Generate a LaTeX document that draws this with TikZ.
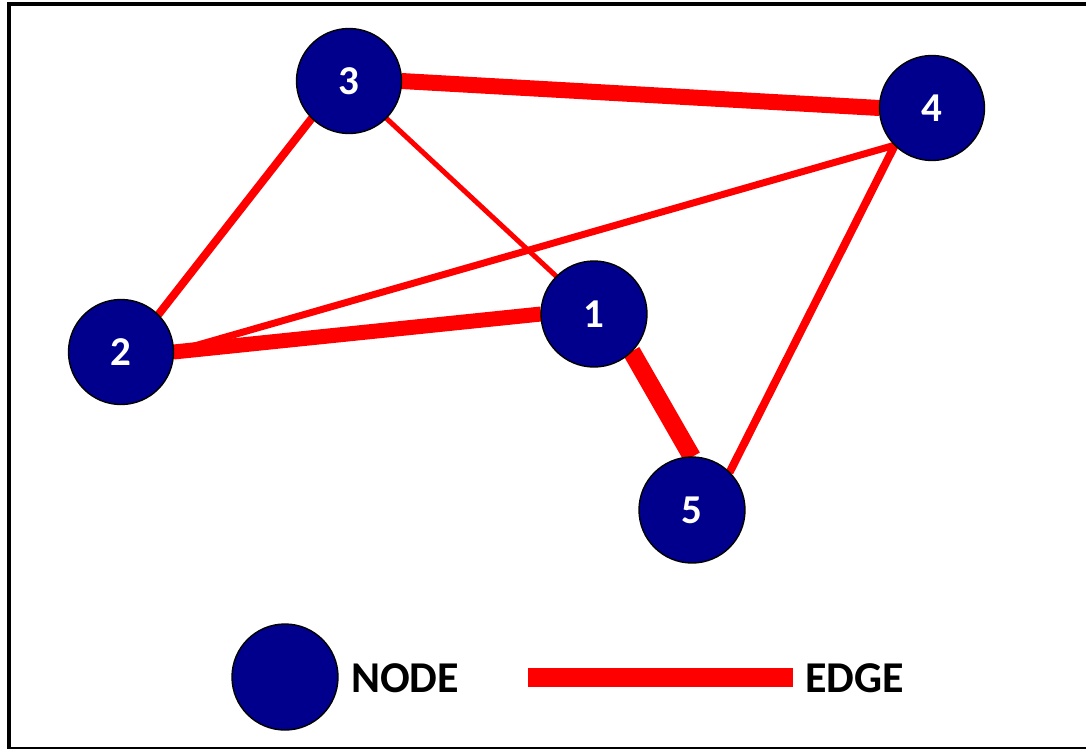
\documentclass[tikz,border=0pt]{standalone}
\usepackage{fontspec}
\setmainfont{Carlito}
\usetikzlibrary{backgrounds}
\definecolor{navy}{RGB}{0,0,140}
\definecolor{edgered}{RGB}{255,0,0}
\begin{document}
\begin{tikzpicture}[x=1pt,y=-1pt,
  vertex/.style={circle,fill=navy,draw=black,line width=1.4pt,minimum size=#1,inner sep=0pt,outer sep=0pt,
    text=white,font=\fontsize{41}{41}\selectfont\bfseries},
  vertex/.default=105pt,
  link/.style={draw=edgered,line width=#1,line cap=butt},
  legendtext/.style={anchor=west,inner sep=0pt,font=\fontsize{44}{44}\selectfont\bfseries,text=black}]
\useasboundingbox (0,0) rectangle (1086,748);
\draw[line width=3.8pt] (1095,748.8) -- (9,748.8) -- (9,4) -- (1095,4);
% nodes
\node[vertex=106pt] (n1) at (594,314) {1};
\node[vertex] (n2) at (121,352) {2};
\node[vertex] (n3) at (349,81) {3};
\node[vertex] (n4) at (932,108) {4};
\node[vertex=106pt] (n5) at (692,510) {5};
% edges
\begin{scope}[on background layer]
\draw[link=16pt] (n3.east) -- (n4.west);
\draw[link=15pt] (n2.east) -- (n1.west);
\draw[link=18pt] (n1.south east) -- (n5.north);
\draw[link=8pt] (n2.north east) -- (n3.south west);
\draw[link=7pt] (n2.east) -- (n4.south west);
\draw[link=5pt] (n3.south east) -- (n1.north west);
\draw[link=8pt] (n4.south west) -- (n5.north east);
\end{scope}
% legend
\node[vertex=106pt] (lnode) at (285,677) {};
\node[legendtext] (ltext) at (351,678) {NODE};
\coordinate (la) at (528,677.5);
\coordinate (lb) at (793,677.5);
\draw[link=19pt] (la) -- (lb);
\node[legendtext] (etext) at (805,678) {EDGE};
\end{tikzpicture}
\end{document}
